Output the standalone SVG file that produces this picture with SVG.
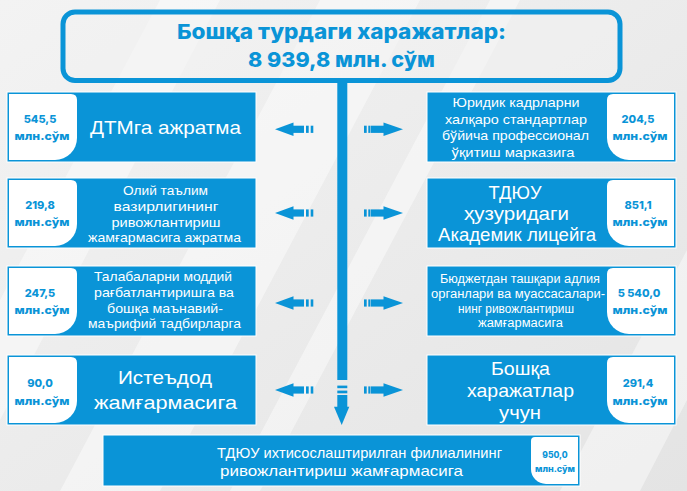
<svg xmlns="http://www.w3.org/2000/svg" width="687" height="491" viewBox="0 0 687 491">
<defs>
<linearGradient id="bg" x1="0" y1="0" x2="1" y2="1">
<stop offset="0" stop-color="#f3f3f3"/>
<stop offset="1" stop-color="#e4e4e4"/>
</linearGradient>
<path id="panelL" d="M9,2 H71 Q77,2 77,8 V46 A22 22 0 0 1 55,68 H9 Z"/>
<path id="panelR" d="M674,2 V68 H629 A22 22 0 0 1 607,46 V8 Q607,2 613,2 Z"/>
<g id="arrL"><polygon points="275,0 293.5,-6.7 293.5,6.7"/><rect x="293" y="-3.6" width="11" height="7.2"/><rect x="306" y="-3.6" width="2.7" height="7.2"/><rect x="310.7" y="-3.6" width="2.6" height="7.2"/></g>
<g id="arrR"><rect x="364" y="-3.6" width="2.7" height="7.2"/><rect x="368.3" y="-3.6" width="2.2" height="7.2"/><rect x="371" y="-3.6" width="13" height="7.2"/><polygon points="383.5,-6.7 403,0 383.5,6.7"/></g>
</defs>
<style>
.box{fill:#0a94d7;stroke:#ffffff;stroke-width:1}
.pan{fill:#ffffff}
.arr{fill:#0a94d7}
.t{font-family:"Liberation Sans",Arial,sans-serif;fill:#ffffff;text-anchor:middle}
.big{font-size:18.5px}
.mid{font-size:13.5px}
.sm{font-size:12.5px}
.v{font-family:Inter,"Noto Sans",sans-serif;font-weight:800;fill:#0a94d7;text-anchor:middle;font-size:11px}
.title{font-family:Inter,"Noto Sans",sans-serif;font-weight:800;fill:#0a94d7;text-anchor:middle;font-size:20.5px}
</style>
<rect width="687" height="491" fill="url(#bg)"/>
<g fill="#ffffff" opacity="0.45">
<polygon points="60,491 160,491 420,0 320,0"/>
<polygon points="230,491 260,491 520,0 490,0"/>
<polygon points="560,491 640,491 687,400 687,250"/>
<polygon points="0,300 0,420 220,0 160,0"/>
</g>

<g id="title">
<rect x="63" y="12" width="557" height="68.5" rx="12" fill="#f1f1f1" fill-opacity="0.5" stroke="#0a94d7" stroke-width="5"/>
<text class="title" x="341.5" y="39" textLength="329" lengthAdjust="spacingAndGlyphs">Бошқа турдаги харажатлар:</text>
<text class="title" x="341.5" y="67" textLength="187" lengthAdjust="spacingAndGlyphs">8 939,8 млн. сўм</text>
</g>

<g id="connectors" class="arr">
<rect x="337.3" y="82" width="10" height="298"/>
<rect x="337.3" y="385.6" width="10" height="2.6"/>
<rect x="337.3" y="390.6" width="10" height="2.7"/>
<rect x="337.3" y="395" width="10" height="12.5"/>
<polygon points="334,406.7 349.3,406.7 341.7,425"/>
<use href="#arrL" transform="translate(0,129.3)"/>
<use href="#arrR" transform="translate(0,129.3)"/>
<use href="#arrL" transform="translate(0,213)"/>
<use href="#arrR" transform="translate(0,213)"/>
<use href="#arrL" transform="translate(0,303)"/>
<use href="#arrR" transform="translate(0,303)"/>
<use href="#arrL" transform="translate(0,390)"/>
<use href="#arrR" transform="translate(0,390)"/>
</g>

<g id="node-dtm" transform="translate(0,92)">
<rect class="box" x="7" y="0" width="249" height="70"/>
<use href="#panelL" class="pan"/>
<text class="v" x="40" y="31">545,5</text>
<text class="v" x="42" y="48" textLength="55" lengthAdjust="spacingAndGlyphs">млн.сўм</text>
<text class="t big" x="165.5" y="42" textLength="151" lengthAdjust="spacingAndGlyphs">ДТМга ажратма</text>
</g>

<g id="node-yuridik" transform="translate(0,92)">
<rect class="box" x="427" y="0" width="249" height="70"/>
<use href="#panelR" class="pan"/>
<text class="v" x="638" y="31">204,5</text>
<text class="v" x="640" y="48" textLength="55" lengthAdjust="spacingAndGlyphs">млн.сўм</text>
<text class="t mid" x="516" y="15" textLength="127" lengthAdjust="spacingAndGlyphs">Юридик кадрларни</text>
<text class="t mid" x="516" y="32" textLength="142" lengthAdjust="spacingAndGlyphs">халқаро стандартлар</text>
<text class="t mid" x="515.5" y="48" textLength="147" lengthAdjust="spacingAndGlyphs">бўйича профессионал</text>
<text class="t mid" x="513" y="65" textLength="123" lengthAdjust="spacingAndGlyphs">ўқитиш марказига</text>
</g>

<g id="node-oliy" transform="translate(0,178)">
<rect class="box" x="7" y="0" width="249" height="70"/>
<use href="#panelL" class="pan"/>
<text class="v" x="40" y="31">219,8</text>
<text class="v" x="42" y="48" textLength="55" lengthAdjust="spacingAndGlyphs">млн.сўм</text>
<text class="t mid" x="165.5" y="17" textLength="85" lengthAdjust="spacingAndGlyphs">Олий таълим</text>
<text class="t mid" x="166" y="33" textLength="105" lengthAdjust="spacingAndGlyphs">вазирлигининг</text>
<text class="t mid" x="166" y="49" textLength="109" lengthAdjust="spacingAndGlyphs">ривожлантириш</text>
<text class="t mid" x="164.5" y="64" textLength="153" lengthAdjust="spacingAndGlyphs">жамғармасига ажратма</text>
</g>

<g id="node-litsey" transform="translate(0,178)">
<rect class="box" x="427" y="0" width="249" height="70"/>
<use href="#panelR" class="pan"/>
<text class="v" x="638" y="31">851,1</text>
<text class="v" x="640" y="48" textLength="55" lengthAdjust="spacingAndGlyphs">млн.сўм</text>
<text class="t big" x="515" y="21" textLength="53" lengthAdjust="spacingAndGlyphs">ТДЮУ</text>
<text class="t big" x="516.5" y="42" textLength="105" lengthAdjust="spacingAndGlyphs">ҳузуридаги</text>
<text class="t big" x="517" y="63" textLength="158" lengthAdjust="spacingAndGlyphs">Академик лицейга</text>
</g>

<g id="node-talaba" transform="translate(0,266)">
<rect class="box" x="7" y="0" width="249" height="70"/>
<use href="#panelL" class="pan"/>
<text class="v" x="40" y="31">247,5</text>
<text class="v" x="42" y="48" textLength="55" lengthAdjust="spacingAndGlyphs">млн.сўм</text>
<text class="t mid" x="163" y="15" textLength="138" lengthAdjust="spacingAndGlyphs">Талабаларни моддий</text>
<text class="t mid" x="164" y="31" textLength="140" lengthAdjust="spacingAndGlyphs">рағбатлантиришга ва</text>
<text class="t mid" x="165" y="47" textLength="116" lengthAdjust="spacingAndGlyphs">бошқа маънавий-</text>
<text class="t mid" x="164.5" y="62" textLength="153" lengthAdjust="spacingAndGlyphs">маърифий тадбирларга</text>
</g>

<g id="node-byudjet" transform="translate(0,266)">
<rect class="box" x="427" y="0" width="249" height="70"/>
<use href="#panelR" class="pan"/>
<text class="v" x="639" y="31">5 540,0</text>
<text class="v" x="640" y="48" textLength="55" lengthAdjust="spacingAndGlyphs">млн.сўм</text>
<text class="t sm" x="520" y="17" textLength="160" lengthAdjust="spacingAndGlyphs">Бюджетдан ташқари адлия</text>
<text class="t sm" x="518" y="32" textLength="174" lengthAdjust="spacingAndGlyphs">органлари ва муассасалари-</text>
<text class="t sm" x="516" y="47" textLength="116" lengthAdjust="spacingAndGlyphs">нинг ривожлантириш</text>
<text class="t sm" x="520.5" y="61" textLength="85" lengthAdjust="spacingAndGlyphs">жамғармасига</text>
</g>

<g id="node-isteddod" transform="translate(0,355)">
<rect class="box" x="7" y="0" width="249" height="70"/>
<use href="#panelL" class="pan"/>
<text class="v" x="40" y="32">90,0</text>
<text class="v" x="42" y="50" textLength="55" lengthAdjust="spacingAndGlyphs">млн.сўм</text>
<text class="t big" x="165" y="29" textLength="94" lengthAdjust="spacingAndGlyphs">Истеъдод</text>
<text class="t big" x="165.5" y="54" textLength="143" lengthAdjust="spacingAndGlyphs">жамғармасига</text>
</g>

<g id="node-boshqa" transform="translate(0,355)">
<rect class="box" x="427" y="0" width="249" height="70"/>
<use href="#panelR" class="pan"/>
<text class="v" x="638" y="32">291,4</text>
<text class="v" x="640" y="50" textLength="55" lengthAdjust="spacingAndGlyphs">млн.сўм</text>
<text class="t big" x="520.5" y="20" textLength="59" lengthAdjust="spacingAndGlyphs">Бошқа</text>
<text class="t big" x="520.5" y="42" textLength="107" lengthAdjust="spacingAndGlyphs">харажатлар</text>
<text class="t big" x="520" y="63.5" textLength="42" lengthAdjust="spacingAndGlyphs">учун</text>
</g>

<g id="node-filial">
<rect class="box" x="103" y="435" width="477" height="51"/>
<path class="pan" d="M578,437 V484 H546 A15 15 0 0 1 531,469 V441 Q531,437 535,437 Z"/>
<text class="v" x="555" y="458" style="font-size:8.5px">950,0</text>
<text class="v" x="555" y="472" style="font-size:8.5px" textLength="40" lengthAdjust="spacingAndGlyphs">млн.сўм</text>
<text class="t" x="359.5" y="458" style="font-size:14.5px" textLength="285" lengthAdjust="spacingAndGlyphs">ТДЮУ ихтисослаштирилган филиалининг</text>
<text class="t" x="341.5" y="476" style="font-size:14.5px" textLength="243" lengthAdjust="spacingAndGlyphs">ривожлантириш жамғармасига</text>
</g>
</svg>
